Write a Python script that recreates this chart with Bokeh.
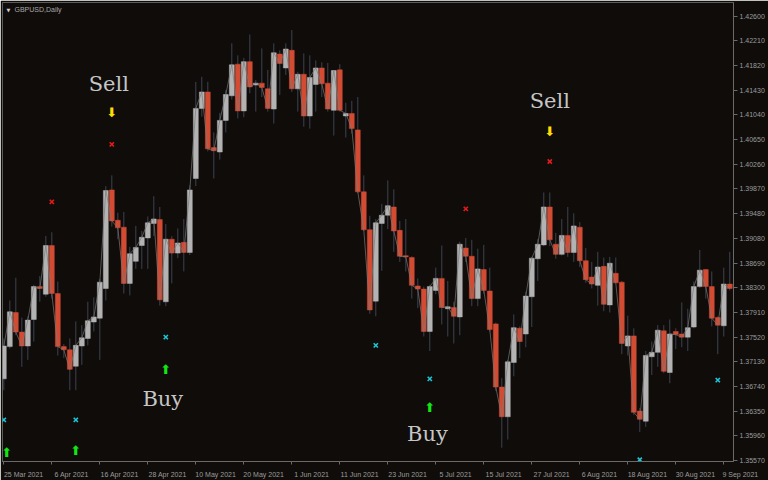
from bokeh.plotting import figure
from bokeh.models import (ColumnDataSource, FixedTicker, PrintfTickFormatter, Label,
                          Range1d, LinearAxis)
from bokeh.core.properties import value
from bokeh.embed import file_html
from bokeh.resources import INLINE

# ---- data (GBPUSD daily) ----
open_ = [
    1.3686, 1.3737, 1.3791, 1.3760, 1.3738, 1.3780, 1.3832, 1.3820, 1.3897, 1.3821,
    1.3737, 1.3732, 1.3706, 1.3738, 1.3750, 1.3776, 1.3782, 1.3829, 1.3985, 1.3937,
    1.3926, 1.3837, 1.3872, 1.3897, 1.3909, 1.3932, 1.3938, 1.3808, 1.3907, 1.3885,
    1.3902, 1.3886, 1.4003, 1.4114, 1.4140, 1.4052, 1.4045, 1.4095, 1.4134, 1.4184,
    1.4110, 1.4188, 1.4151, 1.4154, 1.4145, 1.4113, 1.4200, 1.4178, 1.4206, 1.4145,
    1.4168, 1.4102, 1.4152, 1.4178, 1.4154, 1.4111, 1.4175, 1.4102, 1.4106, 1.4080,
    1.3982, 1.3922, 1.3809, 1.3932, 1.3945, 1.3958, 1.3921, 1.3881, 1.3878, 1.3833,
    1.3828, 1.3761, 1.3826, 1.3845, 1.3797, 1.3799, 1.3784, 1.3893, 1.3880, 1.3813,
    1.3859, 1.3825, 1.3773, 1.3673, 1.3626, 1.3712, 1.3766, 1.3757, 1.3816, 1.3876,
    1.3898, 1.3958, 1.3899, 1.3883, 1.3913, 1.3886, 1.3926, 1.3873, 1.3847, 1.3834,
    1.3864, 1.3803, 1.3853, 1.3839, 1.3738, 1.3754, 1.3635, 1.3619, 1.3721, 1.3728,
    1.3762, 1.3696, 1.3761, 1.3757, 1.3752, 1.3768, 1.3832, 1.3859, 1.3832, 1.3783,
    1.3770, 1.3836]
high = [
    1.3750, 1.3810, 1.3846, 1.3783, 1.3785, 1.3835, 1.3849, 1.3912, 1.3918, 1.3840,
    1.3741, 1.3750, 1.3777, 1.3771, 1.3808, 1.3815, 1.3844, 1.3991, 1.4008, 1.3949,
    1.3950, 1.3895, 1.3928, 1.3920, 1.3943, 1.3975, 1.3958, 1.3931, 1.3912, 1.3924,
    1.3939, 1.3992, 1.4156, 1.4164, 1.4156, 1.4076, 1.4107, 1.4143, 1.4217, 1.4198,
    1.4194, 1.4231, 1.4159, 1.4209, 1.4175, 1.4217, 1.4206, 1.4217, 1.4238, 1.4172,
    1.4201, 1.4198, 1.4190, 1.4187, 1.4186, 1.4175, 1.4184, 1.4123, 1.4126, 1.4132,
    1.4008, 1.3944, 1.3939, 1.3963, 1.4000, 1.3986, 1.3936, 1.3939, 1.3880, 1.3845,
    1.3832, 1.3835, 1.3862, 1.3897, 1.3841, 1.3808, 1.3903, 1.3909, 1.3906, 1.3892,
    1.3898, 1.3862, 1.3775, 1.3687, 1.3716, 1.3788, 1.3769, 1.3824, 1.3879, 1.3907,
    1.3981, 1.3981, 1.3917, 1.3939, 1.3958, 1.3948, 1.3934, 1.3893, 1.3871, 1.3887,
    1.3878, 1.3879, 1.3878, 1.3841, 1.3786, 1.3766, 1.3640, 1.3730, 1.3745, 1.3771,
    1.3771, 1.3780, 1.3766, 1.3807, 1.3797, 1.3840, 1.3890, 1.3860, 1.3856, 1.3785,
    1.3862, 1.3887]
low = [
    1.3668, 1.3734, 1.3755, 1.3705, 1.3716, 1.3745, 1.3808, 1.3816, 1.3813, 1.3723,
    1.3719, 1.3668, 1.3668, 1.3708, 1.3739, 1.3761, 1.3716, 1.3810, 1.3927, 1.3907,
    1.3821, 1.3818, 1.3860, 1.3860, 1.3860, 1.3912, 1.3802, 1.3801, 1.3837, 1.3877,
    1.3856, 1.3882, 1.3991, 1.4101, 1.4046, 1.4003, 1.4033, 1.4076, 1.4128, 1.4098,
    1.4100, 1.4138, 1.4109, 1.4132, 1.4109, 1.4090, 1.4135, 1.4167, 1.4140, 1.4109,
    1.4085, 1.4082, 1.4109, 1.4132, 1.4109, 1.4071, 1.4109, 1.4068, 1.4074, 1.3980,
    1.3920, 1.3789, 1.3785, 1.3857, 1.3923, 1.3887, 1.3871, 1.3856, 1.3813, 1.3798,
    1.3753, 1.3730, 1.3820, 1.3772, 1.3753, 1.3742, 1.3755, 1.3871, 1.3801, 1.3801,
    1.3821, 1.3761, 1.3667, 1.3577, 1.3590, 1.3690, 1.3719, 1.3736, 1.3768, 1.3841,
    1.3896, 1.3896, 1.3876, 1.3881, 1.3879, 1.3871, 1.3863, 1.3838, 1.3829, 1.3802,
    1.3793, 1.3791, 1.3837, 1.3725, 1.3723, 1.3629, 1.3602, 1.3610, 1.3692, 1.3705,
    1.3695, 1.3679, 1.3733, 1.3736, 1.3730, 1.3766, 1.3830, 1.3813, 1.3769, 1.3725,
    1.3753, 1.3826]
close = [
    1.3738, 1.3792, 1.3760, 1.3738, 1.3779, 1.3832, 1.3829, 1.3897, 1.3821, 1.3737,
    1.3732, 1.3701, 1.3739, 1.3751, 1.3778, 1.3784, 1.3839, 1.3984, 1.3936, 1.3925,
    1.3837, 1.3884, 1.3894, 1.3910, 1.3933, 1.3939, 1.3811, 1.3907, 1.3885, 1.3901,
    1.3886, 1.3985, 1.4114, 1.4140, 1.4050, 1.4047, 1.4095, 1.4136, 1.4183, 1.4110,
    1.4188, 1.4148, 1.4154, 1.4147, 1.4114, 1.4202, 1.4185, 1.4208, 1.4145, 1.4168,
    1.4102, 1.4163, 1.4178, 1.4153, 1.4113, 1.4174, 1.4111, 1.4106, 1.4082, 1.3982,
    1.3922, 1.3795, 1.3933, 1.3945, 1.3960, 1.3920, 1.3880, 1.3879, 1.3834, 1.3828,
    1.3761, 1.3832, 1.3845, 1.3799, 1.3800, 1.3785, 1.3899, 1.3880, 1.3813, 1.3860,
    1.3826, 1.3764, 1.3673, 1.3626, 1.3713, 1.3767, 1.3745, 1.3817, 1.3877, 1.3899,
    1.3958, 1.3906, 1.3883, 1.3913, 1.3886, 1.3928, 1.3873, 1.3843, 1.3836, 1.3863,
    1.3804, 1.3869, 1.3838, 1.3742, 1.3754, 1.3633, 1.3622, 1.3723, 1.3728, 1.3763,
    1.3698, 1.3757, 1.3756, 1.3752, 1.3767, 1.3832, 1.3858, 1.3832, 1.3782, 1.3771,
    1.3836, 1.3829]

date_tick_idx = [0, 8, 16, 24, 32, 40, 48, 56, 64, 72, 80, 88, 96, 104, 112, 120]
date_tick_labels = ["25 Mar 2021", "6 Apr 2021", "16 Apr 2021", "28 Apr 2021", "10 May 2021",
                    "20 May 2021", "1 Jun 2021", "11 Jun 2021", "23 Jun 2021", "5 Jul 2021",
                    "15 Jul 2021", "27 Jul 2021", "6 Aug 2021", "18 Aug 2021", "30 Aug 2021",
                    "9 Sep 2021"]
price_ticks = [1.42600, 1.42210, 1.41820, 1.41430, 1.41040, 1.40650, 1.40260, 1.39870,
               1.39480, 1.39080, 1.38690, 1.38300, 1.37910, 1.37520, 1.37130, 1.36740,
               1.36350, 1.35960, 1.35570]

# signals
sell_x_idx = [8, 18, 77, 91]
sell_x_price = [1.3966, 1.4057, 1.3955, 1.4030]
sell_arrow_idx = [18, 91]
sell_arrow_price = [1.4107, 1.4077]
sell_text_idx = [17.5, 91]
sell_text_price = [1.4153, 1.4126]

buy_x_idx = [0, 12, 27, 62, 71, 106, 119]
buy_x_price = [1.3621, 1.3621, 1.3752, 1.3739, 1.3686, 1.3558, 1.3684]
buy_arrow_idx = [0, 12, 27, 71]
buy_arrow_price = [1.3569, 1.3572, 1.3701, 1.3640]
buy_text_idx = [26.5, 70.6]
buy_text_price = [1.3654, 1.3598]

# ---- styling ----
BG = "#0f0c0a"
BULL = "#b3b3b3"
BEAR = "#d24b33"
WICK = "#3d4352"
AXIS = "#6a6a6a"
LABEL = "#9c9c9c"
FONT = "Liberation Sans"
LABEL_SHIFT = 3.3   # date labels start just right of their tick (MT4 style)
NBSP = "\u00a0"

n = len(close)
idx = list(range(n))
top = [max(o, c) for o, c in zip(open_, close)]
bot = [min(o, c) for o, c in zip(open_, close)]
bull = [c >= o for o, c in zip(open_, close)]

src = ColumnDataSource(dict(x=idx, o=open_, h=high, l=low, c=close, top=top, bot=bot,
                            color=[BULL if b else BEAR for b in bull]))

x0, x1 = -0.22, 121.62
y0, y1 = 1.35552, 1.42816
p = figure(width=768, height=480, output_backend="svg", toolbar_location=None,
           x_range=Range1d(x0, x1), y_range=Range1d(y0, y1),
           y_axis_location="right", min_border_left=2, min_border_top=2,
           min_border_bottom=16, min_border_right=35)
p.extra_x_ranges = {"lab": Range1d(x0 - LABEL_SHIFT, x1 - LABEL_SHIFT)}
p.background_fill_color = BG
p.border_fill_color = BG
p.outline_line_color = "#5c5c5c"
p.grid.visible = False

ya = p.yaxis[0]
ya.ticker = FixedTicker(ticks=price_ticks)
ya.formatter = PrintfTickFormatter(format="%.5f")
ya.major_tick_out = 4
ya.major_tick_in = 0
ya.minor_tick_line_color = None
ya.axis_line_color = AXIS
ya.major_tick_line_color = AXIS
ya.major_label_text_color = LABEL
ya.major_label_text_font = FONT
ya.major_label_text_font_size = "7px"
ya.major_label_standoff = 2

xa = p.xaxis[0]
xa.ticker = FixedTicker(ticks=date_tick_idx)
xa.major_label_overrides = {i: "" for i in date_tick_idx}
xa.major_tick_out = 3
xa.major_tick_in = 0
xa.minor_tick_line_color = None
xa.axis_line_color = AXIS
xa.major_tick_line_color = AXIS
xa.major_label_text_font_size = "1px"
xa.major_label_standoff = 0

# date labels on a shifted axis so they start just right of each tick;
# the last one would fall past the frame, so it sits at the frame edge and is
# padded on the left so that its visible text runs under the price scale
label_pos = date_tick_idx[:-1] + [118]
label_txt = date_tick_labels[:-1] + [NBSP * 9 + date_tick_labels[-1]]
xl = LinearAxis(x_range_name="lab", ticker=FixedTicker(ticks=label_pos),
                major_label_overrides={i: t for i, t in zip(label_pos, label_txt)})
xl.axis_line_color = None
xl.major_tick_line_color = None
xl.minor_tick_line_color = None
xl.major_label_standoff = 0
xl.major_label_text_color = LABEL
xl.major_label_text_font = FONT
xl.major_label_text_font_size = "7px"
p.add_layout(xl, "below")

# candles
p.segment(x0="x", y0="l", x1="x", y1="h", source=src, line_color=WICK, line_width=1)
p.vbar(x="x", top="top", bottom="bot", width=0.82, source=src,
       fill_color="color", line_color="color", line_width=0.5)
p.line(idx, close, line_color="#7a7a7a", line_width=1, line_alpha=0.7)

# signal marks
p.scatter(sell_x_idx, sell_x_price, marker="x", size=6, line_width=1.6, line_color="#e31b1b")
p.scatter(buy_x_idx, buy_x_price, marker="x", size=6, line_width=1.6, line_color="#1cc6d6")
p.text(sell_arrow_idx, sell_arrow_price, text=["\u2B07"] * len(sell_arrow_idx),
       text_color="#ffdc00", text_font=value("DejaVu Sans"),
       text_font_size="13px", text_align="center", text_baseline="middle")
p.text(buy_arrow_idx, buy_arrow_price, text=["\u2B06"] * len(buy_arrow_idx),
       x_offset=[3, 0, 0, 0],
       text_color="#14e614", text_font=value("DejaVu Sans"),
       text_font_size="13px", text_align="center", text_baseline="middle")
p.text(sell_text_idx, sell_text_price, text=["Sell"] * len(sell_text_idx),
       text_color="#c6c6c6", text_font=value("DejaVu Serif"), text_font_size="21px",
       text_align="center", text_baseline="middle")
p.text(buy_text_idx, buy_text_price, text=["Buy"] * len(buy_text_idx),
       text_color="#c6c6c6", text_font=value("DejaVu Serif"), text_font_size="21px",
       text_align="center", text_baseline="middle")

# chart caption
p.add_layout(Label(x=x0, y=y1, x_offset=4, y_offset=-4, text="\u25BC",
                   text_baseline="top", text_color="#d0d0d0", text_font_size="5px",
                   text_font="DejaVu Sans"))
p.add_layout(Label(x=x0, y=y1, x_offset=12, y_offset=-3, text="GBPUSD,Daily",
                   text_baseline="top", text_color="#a8a8a8", text_font_size="7px",
                   text_font=FONT))

html = file_html(p, INLINE, title="GBPUSD,Daily")
html = html.replace("<body>", '<body style="margin:0;background:#0f0c0a">', 1)
open("out.html", "w").write(html)
